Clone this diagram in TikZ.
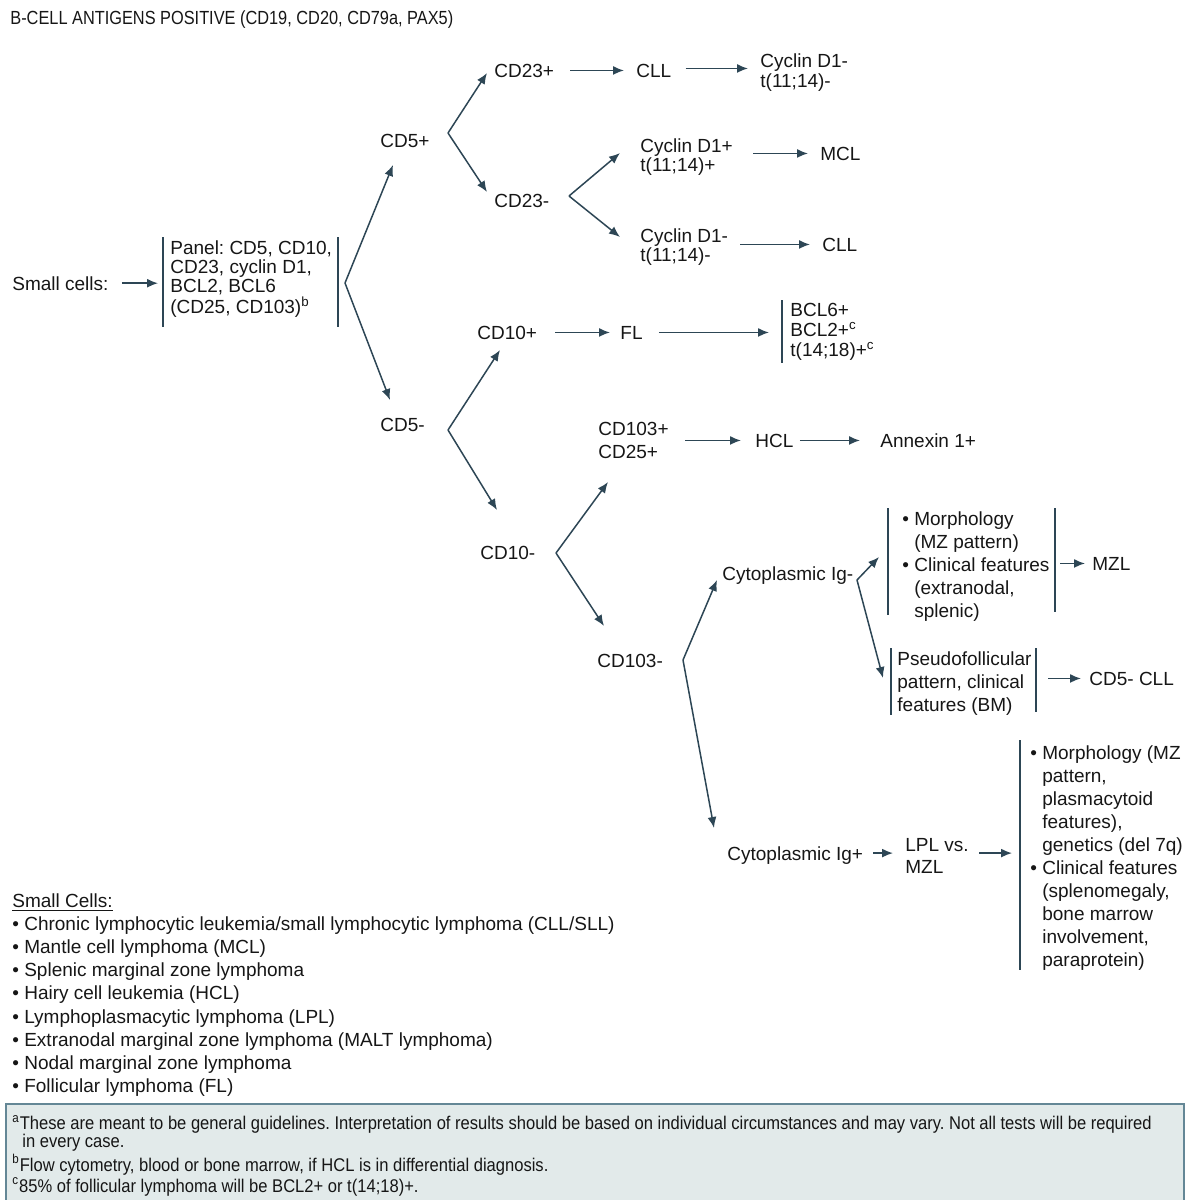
\documentclass[tikz,border=0pt]{standalone}
\usepackage{fontspec}
\setmainfont{Liberation Sans}
\newfontfamily\condfont[FakeStretch=0.86]{Liberation Sans}
\newfontfamily\fnfont[FakeStretch=0.9]{Liberation Sans}
\usetikzlibrary{arrows.meta}
\definecolor{ln}{RGB}{45,70,85}
\definecolor{tx}{RGB}{22,22,22}
\definecolor{fnfill}{RGB}{226,234,234}
\definecolor{fnline}{RGB}{100,135,150}
\tikzset{
  lbl/.style={inner sep=0pt,text=tx,font=\fontsize{9.5}{11.5}\selectfont,align=left},
  one/.style={lbl,anchor=base west},
  two/.style={lbl,anchor=north west},
  arr/.style={draw=ln,line width=0.75pt,-{Latex[length=5.5pt,width=4.5pt]}},
  hor/.style={arr,shorten <=7pt,shorten >=6pt},
  bar/.style={draw=ln,line width=0.75pt},
}
\newcommand{\bul}{\textbullet\ }
\newcommand{\ind}{\phantom{\textbullet\ }}
\frenchspacing
\begin{document}
\frenchspacing
\begin{tikzpicture}[x=0.5pt,y=-0.5pt]
\useasboundingbox (0,0) rectangle (1193,1200);
% title
\node[one,font=\condfont\fontsize{9.5}{11}\selectfont] (title) at (10,24) {B-CELL ANTIGENS POSITIVE (CD19, CD20, CD79a, PAX5)};
% start
\node[one] (small) at (12,290) {Small cells:};
\node[two,inner xsep=3.5pt,font=\fontsize{9.5}{9.5}\selectfont] (panel) at (163,240) {Panel: CD5, CD10,\\CD23, cyclin D1,\\BCL2, BCL6\\(CD25, CD103)\textsuperscript{b}};
\draw[bar] ([yshift=1.5pt]panel.north west) -- ([yshift=-43.5pt]panel.north west);
\draw[bar] ([xshift=87.5pt,yshift=1.5pt]panel.north west) -- ([xshift=87.5pt,yshift=-43.5pt]panel.north west);
\draw[arr,shorten <=6.5pt,shorten >=2.5pt] (small.east) -- (small.east -| panel.west);
% level 1
\node[one] (cd5p) at (380,147) {CD5+};
\node[one] (cd5m) at (380,431) {CD5-};
\coordinate (v0) at (345,283);
\coordinate (t0a) at (393,165);
\coordinate (t0b) at (390,400);
\draw[arr] (v0) -- (t0a);
\draw[arr] (v0) -- (t0b);
% CD5+ branch
\node[one] (cd23p) at (494,77) {CD23+};
\node[one] (cd23m) at (494,207) {CD23-};
\coordinate (v1) at (448,133);
\coordinate (t1a) at (487,73);
\coordinate (t1b) at (487,192);
\draw[arr] (v1) -- (t1a);
\draw[arr] (v1) -- (t1b);
\node[one] (cll1) at (636,77) {CLL};
\node[two,font=\fontsize{9.5}{10}\selectfont] (cyc1) at (760,53) {Cyclin D1-\\t(11;14)-};
\draw[hor,shorten <=8pt] (cd23p.east) -- (cd23p.east -| cll1.west);
\draw[hor] (cll1.east) ++(0,-2) coordinate (a2) (a2) -- (a2 -| cyc1.west);
% CD23- branch
\coordinate (v2) at (569,196);
\coordinate (t2a) at (620,153);
\coordinate (t2b) at (620,237);
\draw[arr] (v2) -- (t2a);
\draw[arr] (v2) -- (t2b);
\node[two,font=\fontsize{9.5}{9.5}\selectfont] (cycp) at (640,138) {Cyclin D1+\\t(11;14)+};
\node[one] (mcl) at (820,160) {MCL};
\node[two,font=\fontsize{9.5}{9.5}\selectfont] (cycm) at (640,228) {Cyclin D1-\\t(11;14)-};
\node[one] (cll2) at (822,251) {CLL};
\draw[hor,shorten <=10pt] (mcl.west -| cycp.east) -- (mcl.west);
\draw[hor,shorten <=6pt] (cll2.west -| cycm.east) -- (cll2.west);
% CD5- branch
\coordinate (v3) at (448,430);
\coordinate (t3a) at (500,350);
\coordinate (t3b) at (497,510);
\draw[arr] (v3) -- (t3a);
\draw[arr] (v3) -- (t3b);
\node[one] (cd10p) at (477,339) {CD10+};
\node[one] (fl) at (620,339) {FL};
\draw[hor,shorten <=9pt,shorten >=5pt] (cd10p.east) -- (cd10p.east -| fl.west);
\node[two,inner xsep=4pt,font=\fontsize{9.5}{10}\selectfont] (bcl) at (782,303) {BCL6+\\BCL2+\textsuperscript{c}\\t(14;18)+\textsuperscript{c}};
\draw[bar] ([yshift=1.5pt]bcl.north west) -- ([yshift=-30pt]bcl.north west);
\draw[arr,shorten <=8pt,shorten >=6.5pt] (fl.east) -- (fl.east -| bcl.west);
% CD10-
\node[one] (cd10m) at (480,559) {CD10-};
\coordinate (v4) at (556,553);
\coordinate (t4a) at (608,482);
\coordinate (t4b) at (604,626);
\draw[arr] (v4) -- (t4a);
\draw[arr] (v4) -- (t4b);
\node[two] (cd103p) at (598,422) {CD103+\\CD25+};
\node[one] (hcl) at (755,447) {HCL};
\node[one] (anx) at (880,447) {Annexin 1+};
\draw[hor,shorten <=8pt,shorten >=7pt] (hcl.west -| cd103p.east) -- (hcl.west);
\draw[hor,shorten <=3pt,shorten >=10pt] (hcl.east) -- (hcl.east -| anx.west);
% CD103-
\node[one] (cd103m) at (597,667) {CD103-};
\coordinate (v5) at (683,660);
\coordinate (t5a) at (717,580);
\coordinate (t5b) at (714,828);
\draw[arr] (v5) -- (t5a);
\draw[arr] (v5) -- (t5b);
% Cytoplasmic Ig-
\node[one] (cigm) at (722,580) {Cytoplasmic Ig-};
\coordinate (v6) at (857,580);
\coordinate (t6a) at (879,557);
\coordinate (t6b) at (883,678);
\draw[arr] (v6) -- (t6a);
\draw[arr] (v6) -- (t6b);
\node[two,inner xsep=7pt] (mz) at (888,511) {\bul Morphology\\\ind(MZ pattern)\\\bul Clinical features\\\ind(extranodal,\\\ind splenic)};
\draw[bar] ([yshift=1.5pt]mz.north west) -- ([yshift=-52pt]mz.north west);
\coordinate (mzr) at ([xshift=83.5pt,yshift=1.5pt]mz.north west);
\draw[bar] (mzr) -- ([yshift=-52pt]mzr);
\node[one] (mzl) at (1092,570) {MZL};
\draw[arr,shorten <=2.5pt,shorten >=3.5pt] (mzl.west -| mzr) -- (mzl.west);
\node[two,inner xsep=3pt] (pseudo) at (891,651) {Pseudofollicular\\pattern, clinical\\features (BM)};
\draw[bar] ([yshift=1.5pt]pseudo.north west) -- ([yshift=-32pt]pseudo.north west);
\coordinate (psr) at ([xshift=72.5pt,yshift=1.5pt]pseudo.north west);
\draw[bar] (psr) -- ([yshift=-32pt]psr);
\node[one] (cd5cll) at (1089,685) {CD5- CLL};
\draw[arr,shorten <=6pt,shorten >=4pt] (cd5cll.west -| psr) -- (cd5cll.west);
% Cytoplasmic Ig+
\node[one] (cigp) at (727,860) {Cytoplasmic Ig+};
\node[two,font=\fontsize{9.5}{11}\selectfont] (lpl) at (905,838) {LPL vs.\\MZL};
\draw[arr,shorten <=5pt,shorten >=6pt] (cigp.east) ++(0,-2) coordinate (a11) (a11) -- (a11 -| lpl.west);
\node[two,inner xsep=5pt] (big) at (1020,745) {\bul Morphology (MZ\\\ind pattern,\\\ind plasmacytoid\\\ind features),\\\ind genetics (del 7q)\\\bul Clinical features\\\ind(splenomegaly,\\\ind bone marrow\\\ind involvement,\\\ind paraprotein)};
\draw[bar] ([yshift=2.5pt]big.north west) -- ([yshift=-112.5pt]big.north west);
\draw[arr,shorten <=5pt,shorten >=4pt] (a11 -| lpl.east) -- (a11 -| big.west);
% legend list
\node[two,font=\fontsize{9.5}{11.6}\selectfont] (legend) at (12,893) {\underline{Small Cells:}\\
\bul Chronic lymphocytic leukemia/small lymphocytic lymphoma (CLL/SLL)\\
\bul Mantle cell lymphoma (MCL)\\
\bul Splenic marginal zone lymphoma\\
\bul Hairy cell leukemia (HCL)\\
\bul Lymphoplasmacytic lymphoma (LPL)\\
\bul Extranodal marginal zone lymphoma (MALT lymphoma)\\
\bul Nodal marginal zone lymphoma\\
\bul Follicular lymphoma (FL)};
% footnotes
\node[draw=fnline,fill=fnfill,line width=0.8pt,anchor=north west,minimum width=589pt,minimum height=55pt,inner sep=0pt] (fnbox) at (5,1103) {};
\node[two,font=\fnfont\fontsize{9.2}{9}\selectfont] (fn) at (12,1115) {\textsuperscript{a}These are meant to be general guidelines. Interpretation of results should be based on individual circumstances and may vary. Not all tests will be required\\
\hspace*{5pt}in every case.\\[0.3pt]
\textsuperscript{b}Flow cytometry, blood or bone marrow, if HCL is in differential diagnosis.\\[0.3pt]
\textsuperscript{c}85\% of follicular lymphoma will be BCL2+ or t(14;18)+.};
\end{tikzpicture}
\end{document}
